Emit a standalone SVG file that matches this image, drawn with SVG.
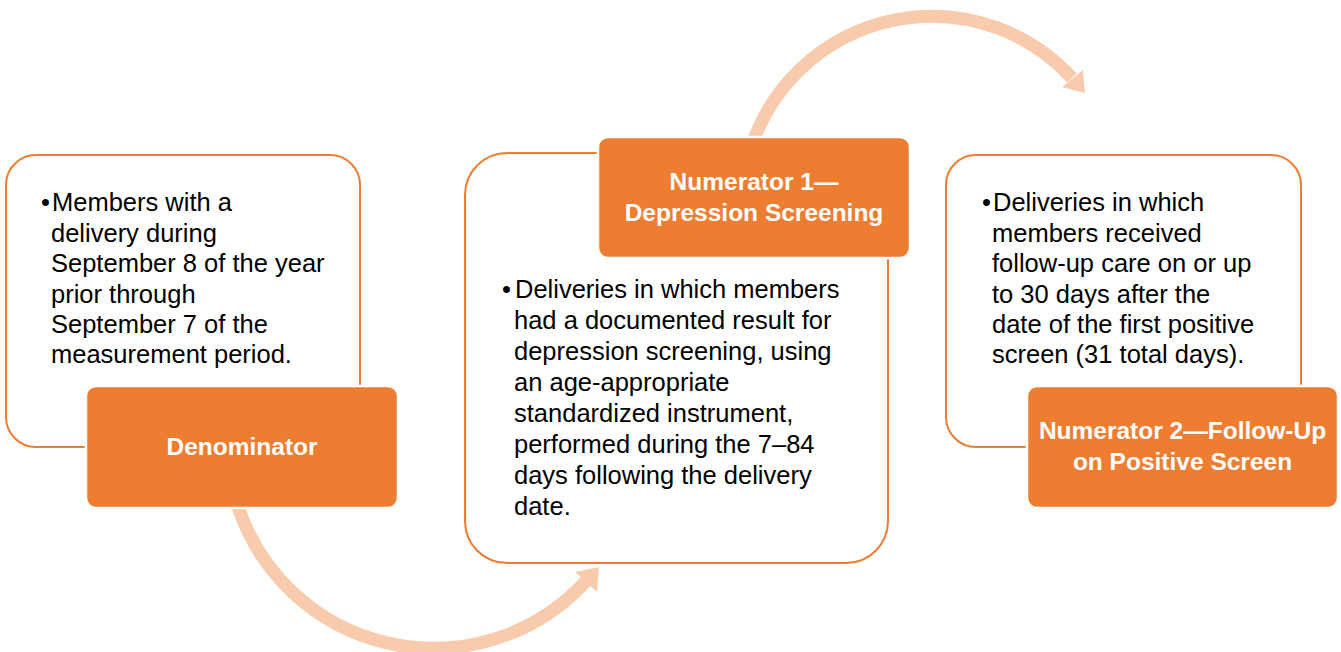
<svg xmlns="http://www.w3.org/2000/svg" width="1341" height="652" viewBox="0 0 1341 652">
  <style>
    .outer { fill: #FFFFFF; stroke: #ED7D31; stroke-width: 2; }
    .label { fill: #ED7D31; stroke: #FFFFFF; stroke-width: 2.5; }
    .body { font-family: "Liberation Sans", Arial, sans-serif; font-size: 25.5px; fill: #000000; }
    .title { font-family: "Liberation Sans", Arial, sans-serif; font-size: 24.5px; font-weight: bold; fill: #FFFFFF; text-anchor: middle; }
    .arc { fill: none; stroke: #F8CBAD; stroke-width: 13; }
    .head { fill: #F8CBAD; }
  </style>
  <rect width="1341" height="652" fill="#FFFFFF"/>

  <g id="denominator-panel">
    <rect class="outer" x="6" y="155" width="354" height="292" rx="30" ry="30"/>
    <text class="body" x="41" y="211">•</text>
    <text class="body" x="52" y="211">Members with a</text>
    <text class="body" x="51" y="241.5">delivery during</text>
    <text class="body" x="51" y="272">September 8 of the year</text>
    <text class="body" x="51" y="302.5">prior through</text>
    <text class="body" x="51" y="333">September 7 of the</text>
    <text class="body" x="51" y="363">measurement period.</text>
  </g>

  <g id="numerator1-panel">
    <rect class="outer" x="465" y="153" width="423" height="410" rx="42" ry="42"/>
    <text class="body" x="502" y="298">•</text>
    <text class="body" x="515" y="298">Deliveries in which members</text>
    <text class="body" x="514" y="329">had a documented result for</text>
    <text class="body" x="514" y="360">depression screening, using</text>
    <text class="body" x="514" y="391">an age-appropriate</text>
    <text class="body" x="514" y="422">standardized instrument,</text>
    <text class="body" x="514" y="453">performed during the 7–84</text>
    <text class="body" x="514" y="484">days following the delivery</text>
    <text class="body" x="514" y="515">date.</text>
  </g>

  <g id="numerator2-panel">
    <rect class="outer" x="946" y="155" width="355" height="292" rx="30" ry="30"/>
    <text class="body" x="982" y="211">•</text>
    <text class="body" x="993" y="211">Deliveries in which</text>
    <text class="body" x="992" y="241.5">members received</text>
    <text class="body" x="992" y="272">follow-up care on or up</text>
    <text class="body" x="992" y="302.5">to 30 days after the</text>
    <text class="body" x="992" y="333">date of the first positive</text>
    <text class="body" x="992" y="363">screen (31 total days).</text>
  </g>

  <g id="connectors">
    <path class="arc" d="M 236,500 A 206 206 0 0 0 586,581"/>
    <polygon class="head" points="599,567 575,572 597,592"/>
    <path class="arc" d="M 752,145 A 190 190 0 0 1 1072,78"/>
    <polygon class="head" points="1085,93 1083,70 1062,87"/>
  </g>

  <g id="denominator">
    <rect class="label" x="86" y="386" width="312" height="122" rx="10" ry="10"/>
    <text class="title" x="242" y="455">Denominator</text>
  </g>

  <g id="numerator1">
    <rect class="label" x="598" y="137" width="312" height="121" rx="10" ry="10"/>
    <text class="title" x="754" y="190">Numerator 1—</text>
    <text class="title" x="754" y="221">Depression Screening</text>
  </g>

  <g id="numerator2">
    <rect class="label" x="1027" y="386" width="311" height="122" rx="10" ry="10"/>
    <text class="title" x="1182.5" y="439">Numerator 2—Follow-Up</text>
    <text class="title" x="1182.5" y="470">on Positive Screen</text>
  </g>
</svg>
